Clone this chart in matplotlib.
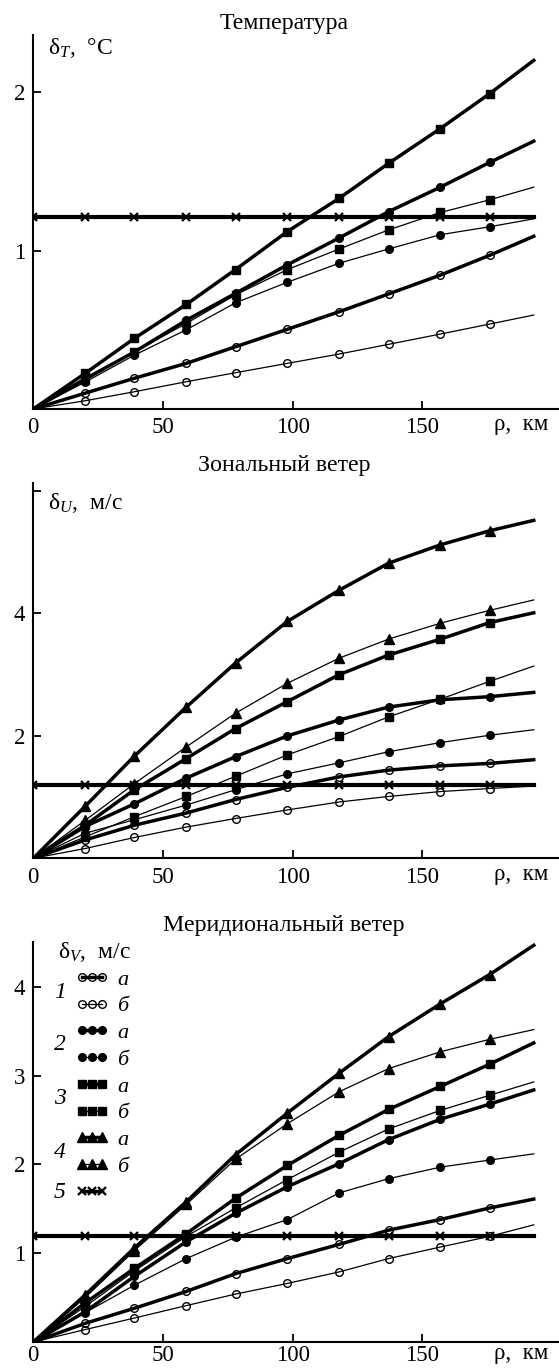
import matplotlib
import matplotlib.pyplot as plt
from matplotlib.lines import Line2D

matplotlib.use("Agg")

W, H = 559, 1368  # output size in px (dpi 100)

plt.rcParams["font.family"] = ["Liberation Serif", "DejaVu Serif"]
plt.rcParams["mathtext.fontset"] = "custom"
plt.rcParams["mathtext.rm"] = "Liberation Serif"
plt.rcParams["mathtext.it"] = "Liberation Serif:italic"
plt.rcParams["font.size"] = 16

# distance, km (markers at every point except the first and the last)
rho = [0, 20, 39, 59, 78, 98, 118, 137, 157, 176, 193]

# Температура, °C
t_1a = [0, 0.10, 0.194, 0.288, 0.393, 0.503, 0.614, 0.726, 0.845, 0.97, 1.09]
t_1b = [0, 0.052, 0.109, 0.172, 0.229, 0.288, 0.347, 0.408, 0.473, 0.536, 0.593]
t_2a = [0, 0.19, 0.36, 0.56, 0.73, 0.91, 1.08, 1.245, 1.40, 1.556, 1.69]
t_2b = [0, 0.17, 0.34, 0.50, 0.67, 0.80, 0.92, 1.01, 1.10, 1.15, 1.20]
t_3a = [0, 0.225, 0.446, 0.66, 0.88, 1.12, 1.33, 1.55, 1.77, 1.99, 2.20]
t_3b = [0, 0.18, 0.36, 0.54, 0.72, 0.88, 1.01, 1.13, 1.24, 1.32, 1.40]
t_5 = [1.21, 1.21, 1.21, 1.21, 1.21, 1.21, 1.21, 1.21, 1.21, 1.21, 1.21]

# Зональный ветер, м/с
u_1a = [0, 0.30, 0.54, 0.74, 0.96, 1.16, 1.33, 1.44, 1.51, 1.55, 1.61]
u_1b = [0, 0.16, 0.34, 0.51, 0.65, 0.79, 0.92, 1.01, 1.09, 1.14, 1.18]
u_2a = [0, 0.52, 0.89, 1.31, 1.66, 2.00, 2.26, 2.47, 2.59, 2.64, 2.71]
u_2b = [0, 0.41, 0.63, 0.87, 1.12, 1.38, 1.56, 1.74, 1.89, 2.01, 2.10]
u_3a = [0, 0.54, 1.12, 1.63, 2.12, 2.56, 3.00, 3.32, 3.58, 3.85, 4.01]
u_3b = [0, 0.35, 0.68, 1.01, 1.34, 1.69, 1.99, 2.31, 2.60, 2.89, 3.14]
u_4a = [0, 0.85, 1.67, 2.47, 3.19, 3.87, 4.38, 4.82, 5.12, 5.35, 5.52]
u_4b = [0, 0.62, 1.22, 1.82, 2.37, 2.86, 3.27, 3.58, 3.84, 4.05, 4.22]
u_5 = [1.20, 1.20, 1.20, 1.20, 1.20, 1.20, 1.20, 1.20, 1.20, 1.20, 1.20]

# Меридиональный ветер, м/с
v_1a = [0, 0.21, 0.38, 0.57, 0.77, 0.94, 1.10, 1.26, 1.38, 1.51, 1.61]
v_1b = [0, 0.14, 0.27, 0.41, 0.54, 0.66, 0.79, 0.94, 1.07, 1.19, 1.32]
v_2a = [0, 0.34, 0.74, 1.13, 1.45, 1.75, 2.01, 2.28, 2.51, 2.68, 2.84]
v_2b = [0, 0.33, 0.64, 0.94, 1.18, 1.38, 1.68, 1.84, 1.97, 2.05, 2.12]
v_3a = [0, 0.44, 0.83, 1.22, 1.62, 1.99, 2.33, 2.62, 2.88, 3.13, 3.37]
v_3b = [0, 0.40, 0.80, 1.19, 1.51, 1.83, 2.14, 2.40, 2.61, 2.78, 2.93]
v_4a = [0, 0.53, 1.06, 1.58, 2.11, 2.58, 3.03, 3.44, 3.81, 4.14, 4.47]
v_4b = [0, 0.50, 1.03, 1.55, 2.06, 2.46, 2.82, 3.08, 3.27, 3.41, 3.52]
v_5 = [1.19, 1.19, 1.19, 1.19, 1.19, 1.19, 1.19, 1.19, 1.19, 1.19, 1.19]

titles = ["Температура", "Зональный ветер", "Меридиональный ветер"]
ylabels = [r"δ$_T$,  °C", r"δ$_U$,  м/с", r"δ$_V$,  м/с"]

THICK, THIN = 2.5, 0.9
MARKERS = {
    "1": dict(marker="o", ms=5.5, mfc="none", mew=1.0),
    "2": dict(marker="o", ms=5.5, mfc="black", mew=1.0),
    "3": dict(marker="s", ms=6.0, mfc="black", mew=1.0),
    "4": dict(marker="^", ms=6.5, mfc="black", mew=1.0),
    "5": dict(marker="x", ms=6.0, mfc="black", mew=1.6),
}


def fx(px):
    return px / W


def fy(py):
    return 1 - py / H


def make_axes(fig, top, bottom, pad):
    ax = fig.add_axes([fx(33.3), fy(bottom), fx(W - 33.3), (bottom - top) / H])
    ax.spines["top"].set_visible(False)
    ax.spines["right"].set_visible(False)
    for s in ("left", "bottom"):
        ax.spines[s].set_linewidth(1.5)
    ax.tick_params(direction="in", length=6, width=1.3, labelsize=16.5, pad=6)
    ax.tick_params(axis="x", pad=pad)
    ax.set_xlim(0, (W - 33.3) / 2.593)
    ax.set_xticks([0, 50, 100, 150])
    return ax


def draw_curves(ax, curves):
    for key, ys in curves:
        num, kind = key[0], key[1]
        lw = THICK if kind == "a" else THIN
        ax.plot(rho, ys, color="black", lw=lw, markevery=slice(1, 10),
                mec="black", **MARKERS[num], zorder=3)


def draw_line5(ax, ys):
    ax.plot(rho, ys, color="black", lw=3.0, markevery=slice(0, 10),
            mec="black", **MARKERS["5"], zorder=4)


fig = plt.figure(figsize=(W / 100, H / 100), dpi=100)

# top, bottom (px), ymax, yticks, yticklabels, title y, label xy, x tick pad
panels = [
    (35, 409, 2.36, [1, 2], ["1", "2"], 23, (48, 48), 6),
    (483, 858.3, 6.13, [2, 4, 6], ["2", "4", ""], 465, (48, 503), 6),
    (941.7, 1342, 4.51, [1, 2, 3, 4], ["1", "2", "3", "4"], 925, (58, 952), 2.5),
]
data = [
    [("1a", t_1a), ("1b", t_1b), ("2a", t_2a), ("2b", t_2b), ("3a", t_3a), ("3b", t_3b)],
    [("1a", u_1a), ("1b", u_1b), ("2a", u_2a), ("2b", u_2b), ("3a", u_3a), ("3b", u_3b),
     ("4a", u_4a), ("4b", u_4b)],
    [("1a", v_1a), ("1b", v_1b), ("2a", v_2a), ("2b", v_2b), ("3a", v_3a), ("3b", v_3b),
     ("4a", v_4a), ("4b", v_4b)],
]
lines5 = [t_5, u_5, v_5]

for i, (top, bottom, ymax, yt, ytl, title_y, lab_xy, pad) in enumerate(panels):
    ax = make_axes(fig, top, bottom, pad)
    ax.set_ylim(0, ymax)
    ax.set_yticks(yt)
    ax.set_yticklabels(ytl)
    draw_curves(ax, data[i])
    draw_line5(ax, lines5[i])
    fig.text(fx(284), fy(title_y), titles[i], ha="center", va="center", fontsize=17.2)
    fig.text(fx(lab_xy[0]), fy(lab_xy[1]), ylabels[i], ha="left", va="center", fontsize=17)
    rho_y = bottom + 16 if i < 2 else bottom + 12
    fig.text(fx(521), fy(rho_y), "ρ,  км", ha="center", va="center", fontsize=16.5)

# legend of the bottom panel
handles, labels = [], []
for num in "1234":
    for kind in "ab":
        lw = THICK if kind == "a" else THIN
        handles.append(Line2D([], [], color="black", lw=lw, mec="black", **MARKERS[num]))
        labels.append("a" if kind == "a" else "б")
handles.append(Line2D([], [], color="black", lw=THICK, mec="black", **MARKERS["5"]))
labels.append("")

fig.legend(handles, labels, loc="upper left", bbox_to_anchor=(fx(75), fy(969)),
           frameon=False, numpoints=3, handlelength=1.5, handletextpad=0.4,
           labelspacing=0.28, borderpad=0, borderaxespad=0,
           prop=dict(family="Liberation Serif", style="italic", size=16))

for num, py in zip("12345", [992, 1045, 1098, 1152, 1193]):
    fig.text(fx(60), fy(py), num, ha="center", va="center", fontsize=17, style="italic")

fig.savefig("out.png", dpi=100)
